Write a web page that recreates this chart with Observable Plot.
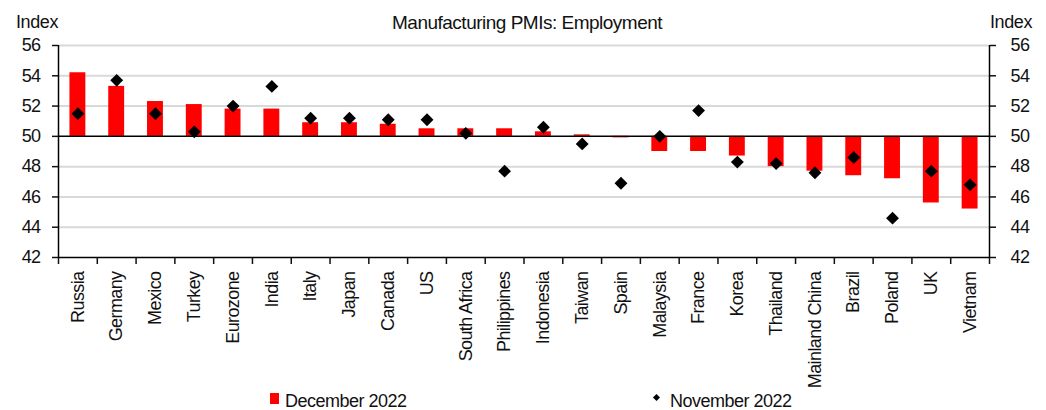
<!DOCTYPE html>
<html>
<head>
<meta charset="utf-8">
<script src="https://cdn.jsdelivr.net/npm/d3@7"></script>
<script src="https://cdn.jsdelivr.net/npm/@observablehq/plot@0.6"></script>
<style>
  body { margin: 0; background: #fff; }
  #wrap { position: relative; width: 1046px; height: 410px; font-family: "Liberation Sans", Arial, sans-serif; color: #111; overflow: hidden; }
  #head { position: relative; height: 30px; }
  #chart { height: 360px; }
  #legend { position: relative; height: 20px; }
  .t { position: absolute; white-space: nowrap; line-height: 1; }
</style>
</head>
<body>
<div id="wrap">
  <div id="head">
    <div class="t" style="left:16px; top:13px; font-size:18px; letter-spacing:-0.4px;">Index</div>
    <div class="t" id="title" style="left:392px; top:13px; font-size:19px; letter-spacing:-0.5px;"></div>
    <div class="t" style="left:990px; top:13px; font-size:18px; letter-spacing:-0.4px;">Index</div>
  </div>
  <div id="chart"></div>
  <div id="legend"></div>
</div>
<script>
const title = "Manufacturing PMIs: Employment";
const countries = ["Russia", "Germany", "Mexico", "Turkey", "Eurozone", "India", "Italy", "Japan", "Canada", "US", "South Africa", "Philippines", "Indonesia", "Taiwan", "Spain", "Malaysia", "France", "Korea", "Thailand", "Mainland China", "Brazil", "Poland", "UK", "Vietnam"];
const dec2022 = [54.2, 53.3, 52.3, 52.1, 51.8, 51.8, 50.9, 50.9, 50.8, 50.5, 50.5, 50.5, 50.3, 50.1, 49.9, 49.0, 49.0, 48.7, 48.0, 47.7, 47.4, 47.2, 45.6, 45.2];
const nov2022 = [51.5, 53.7, 51.5, 50.3, 52.0, 53.3, 51.2, 51.2, 51.1, 51.1, 50.2, 47.7, 50.6, 49.5, 46.9, 50.0, 51.7, 48.3, 48.2, 47.6, 48.6, 44.6, 47.7, 46.8];
const yTicks = [42, 44, 46, 48, 50, 52, 54, 56];
const gridTicks = [44, 46, 48, 52, 54, 56];
const seriesNames = ["December 2022", "November 2022"];

document.getElementById("title").textContent = title;

const data = countries.map((c, i) => ({country: c, dec: dec2022[i], nov: nov2022[i]}));

const W = 1046, H = 360, mL = 58, mR = 57, mT = 15, mB = 133;
const step = (W - mL - mR) / countries.length;
const first = countries[0], last = countries[countries.length - 1];

const chart = Plot.plot({
  width: W, height: H,
  marginLeft: mL, marginRight: mR, marginTop: mT, marginBottom: mB,
  style: {fontFamily: "Liberation Sans, Arial, sans-serif", fontSize: "18px", color: "#111", background: "#fff", overflow: "visible"},
  x: {domain: countries, paddingInner: 0.59, paddingOuter: 0.295, round: false, label: null},
  y: {domain: [42, 56], label: null},
  marks: [
    Plot.ruleY(gridTicks, {stroke: "#d9d9d9", strokeWidth: 2}),
    Plot.barY(data, {x: "country", y1: 50, y2: "dec", fill: "#ff0000"}),
    Plot.ruleY([50], {stroke: "#000", strokeWidth: 1.5}),
    Plot.ruleY([42], {stroke: "#000", strokeWidth: 1.5}),
    Plot.ruleX([first], {y1: 42, y2: 56, dx: -step / 2, stroke: "#000", strokeWidth: 1.5}),
    Plot.ruleX([last], {y1: 42, y2: 56, dx: step / 2, stroke: "#000", strokeWidth: 1.5}),
    Plot.axisY({anchor: "left", ticks: yTicks, tickSize: 6, tickPadding: 12, strokeWidth: 1.5, label: null}),
    Plot.axisY({anchor: "right", ticks: yTicks, tickSize: 6, tickPadding: 15, strokeWidth: 1.5, label: null}),
    Plot.axisX({ticks: countries, tickSize: 7, text: null, dx: -step / 2, strokeWidth: 1.5, label: null}),
    Plot.axisX({ticks: [last], tickSize: 7, text: null, dx: step / 2, strokeWidth: 1.5, label: null}),
    Plot.axisX({ticks: countries, tickSize: 0, tickPadding: 14, tickRotate: -90, label: null, fontSize: 18}),
    Plot.dot(data, {x: "country", y: "nov", symbol: "diamond2", r: 5.8, fill: "#000", stroke: "none"})
  ]
});
chart.querySelectorAll("text").forEach(t => t.style.letterSpacing = "-0.6px");
document.getElementById("chart").appendChild(chart);

const lg = document.getElementById("legend");
lg.innerHTML = `
  <div style="position:absolute; left:270px; top:3px; width:9px; height:11px; background:#ff0000;"></div>
  <div class="t" style="left:285px; top:2px; font-size:18px; letter-spacing:-0.5px;">${seriesNames[0]}</div>
  <div style="position:absolute; left:654px; top:5px; width:5px; height:5px; background:#000; transform:rotate(45deg);"></div>
  <div class="t" style="left:670px; top:2px; font-size:18px; letter-spacing:-0.5px;">${seriesNames[1]}</div>
`;
</script>
</body>
</html>
